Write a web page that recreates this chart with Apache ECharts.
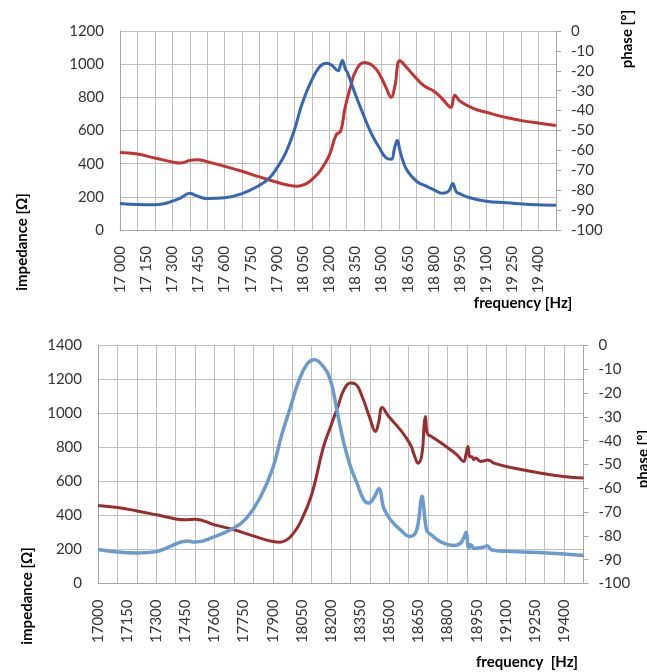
<!DOCTYPE html>
<html>
<head>
<meta charset="utf-8">
<script src="https://cdn.jsdelivr.net/npm/echarts@6/dist/echarts.min.js"></script>
<style>
html,body{margin:0;padding:0;background:#fff;}
#c{width:647px;height:672px;}
</style>
</head>
<body>
<div id="c"></div>
<script>
// ---------- top chart ----------
const topImpFreq = [17000,17100,17200,17300,17350,17400,17445,17500,17600,17700,17800,17900,17967,18015,18065,18100,18150,18200,18240,18265,18290,18320,18350,18400,18450,18490,18525,18555,18575,18605,18640,18690,18745,18798,18840,18882,18898,18920,18950,19025,19120,19215,19310,19405,19500];
const topImp     = [468,458,434,410,404,420,424,412,384,354,320,288,270,264,278,304,360,450,575,595,735,855,955,1010,990,935,860,800,860,1020,985,925,868,838,800,750,738,812,776,734,704,678,658,644,630];

const topPhFreq = [17000,17100,17200,17250,17300,17350,17400,17430,17470,17500,17600,17700,17800,17855,17900,17950,18000,18045,18095,18145,18185,18215,18250,18265,18275,18292,18306,18344,18392,18440,18488,18526,18555,18575,18590,18605,18625,18650,18700,18756,18800,18850,18885,18908,18928,18950,19005,19100,19215,19350,19500];
const topPhase  = [-86.7,-87.2,-87.3,-86.8,-85.5,-83.8,-81.5,-82.5,-83.8,-84.2,-83.8,-81.7,-77.5,-74,-68.8,-61.3,-49.7,-36.3,-25.5,-18,-16.2,-17.2,-20,-17,-14.8,-19,-21.3,-30.5,-41.3,-51.3,-58.8,-63.8,-64.5,-58.5,-55,-60,-66,-70.5,-75.5,-78,-79.8,-81.5,-80.5,-76.6,-80.8,-81.8,-83.8,-85.5,-86.3,-87.2,-87.5];

// ---------- bottom chart ----------
const botImpFreq = [17000,17100,17200,17300,17400,17448,17500,17600,17700,17800,17900,17938,17972,18000,18040,18100,18160,18200,18235,18266,18300,18326,18360,18400,18429,18446,18463,18497,18557,18609,18630,18648,18668,18680,18686,18692,18700,18712,18780,18849,18883,18895,18905,18915,18925,18935,18945,18969,18990,19005,19020,19038,19140,19261,19398,19500];
const botImp     = [459,447,427,404,380,375,378,345,316,280,247,243,257,286,355,522,800,930,1040,1139,1179,1173,1100,973,894,953,1035,982,904,816,750,708,760,940,982,900,875,868,816,757,718,760,806,745,745,730,738,718,722,727,722,708,679,653,629,620];

const botPhFreq = [17000,17100,17200,17300,17353,17400,17456,17500,17600,17700,17765,17834,17900,17946,17990,18033,18076,18113,18153,18197,18231,18266,18300,18334,18369,18394,18420,18446,18472,18506,18557,18604,18634,18652,18660,18668,18676,18685,18695,18712,18763,18832,18866,18885,18895,18909,18918,18926,18935,18952,18990,19003,19029,19140,19312,19500];
const botPhase  = [-85.7,-86.8,-87.2,-86.6,-85.1,-83.4,-82.1,-82.6,-80.3,-76.7,-72.5,-64.1,-51.5,-37.5,-26.3,-15.1,-7.9,-6.0,-8.1,-14.6,-27.7,-41,-50.9,-57.9,-64.9,-66.2,-64.1,-60.2,-68.4,-73.2,-77.4,-80.2,-78.9,-73,-67,-63.3,-67,-74,-78.1,-79.3,-82.4,-84,-83.1,-80.5,-78.5,-85.1,-83.7,-84.2,-85.3,-85.1,-84.6,-84.1,-85.9,-86.6,-87.2,-88.2];

const xTickLabels = [17000,17150,17300,17450,17600,17750,17900,18050,18200,18350,18500,18650,18800,18950,19100,19250,19400];

function zip(a,b){return a.map((v,i)=>[v,b[i]]);}

const FONT = 'Lato';
const gridColor = '#BFBFBF';
const axisColor = '#A6A6A6';
const labelColor = '#333333';

function xAxes(gridIndex, spaced){
  return [
    {type:'value', gridIndex, position:'bottom', min:17000, max:19500, interval:100,
     axisLine:{show:true, onZero:false, lineStyle:{color:axisColor}}, axisTick:{show:false},
     axisLabel:{show:false}, splitLine:{show:true, lineStyle:{color:gridColor, width:1}}},
    {type:'value', gridIndex, position:'bottom', min:17000, max:19500, interval:50,
     axisLine:{show:false, onZero:false}, axisTick:{show:false}, splitLine:{show:false},
     axisLabel:{show:true, rotate:90, margin:16, fontFamily:FONT, fontSize:15, color:labelColor,
       formatter: v => xTickLabels.indexOf(v) >= 0 ? (spaced ? String(v).replace(/^(\d\d)(\d\d\d)$/, '$1 $2') : String(v)) : ''}}
  ];
}

function yAxes(gridIndex, maxImp){
  return [
    {type:'value', gridIndex, position:'left', min:0, max:maxImp, interval:200,
     axisLine:{show:true, lineStyle:{color:axisColor}}, axisTick:{show:false},
     axisLabel:{margin:16, fontFamily:FONT, fontSize:15, color:labelColor, formatter: v => String(v)},
     splitLine:{show:true, lineStyle:{color:gridColor, width:1}}},
    {type:'value', gridIndex, position:'right', min:-100, max:0, interval:10,
     axisLine:{show:true, lineStyle:{color:axisColor}},
     axisTick:{show:true, inside:false, length:5, lineStyle:{color:axisColor}},
     axisLabel:{margin:15, fontFamily:FONT, fontSize:15, color:labelColor, formatter: v => String(v)},
     splitLine:{show:false}}
  ];
}

function title(text, x, y, rot){
  return {type:'text', x, y, rotation: rot ? Math.PI/2 : 0,
    style:{text, fontFamily:FONT, fontSize:15, fontWeight:'bold', fill:'#000', align:'center', verticalAlign:'middle'}};
}

const chart = echarts.init(document.getElementById('c'), null, {renderer:'canvas'});
chart.setOption({
  animation:false,
  backgroundColor:'#fff',
  grid:[
    {left:120, top:31, width:436, height:199},
    {left:98, top:345.5, width:485.5, height:238}
  ],
  xAxis:[...xAxes(0,true), ...xAxes(1,false)],
  yAxis:[...yAxes(0,1200), ...yAxes(1,1400)],
  series:[
    {type:'line', xAxisIndex:0, yAxisIndex:0, data:zip(topImpFreq, topImp), showSymbol:false,
     smooth:0.45, lineStyle:{color:'#C43232', width:3}},
    {type:'line', xAxisIndex:0, yAxisIndex:1, data:zip(topPhFreq, topPhase), showSymbol:false,
     smooth:0.45, lineStyle:{color:'#3565B5', width:3}},
    {type:'line', xAxisIndex:2, yAxisIndex:2, data:zip(botImpFreq, botImp), showSymbol:false,
     smooth:0.45, lineStyle:{color:'#9B2C2C', width:3}},
    {type:'line', xAxisIndex:2, yAxisIndex:3, data:zip(botPhFreq, botPhase), showSymbol:false,
     smooth:0.45, lineStyle:{color:'#6A9BD0', width:3.5}}
  ],
  graphic:[
    title('impedance [Ω]', 22, 242, true),
    title('phase [°]', 627, 39, true),
    title('frequency [Hz]', 523, 303, false),
    title('impedance [Ω]', 27, 596, true),
    title('phase [°]', 643, 459, true),
    title('frequency  [Hz]', 527, 662, false)
  ]
});
</script>
</body>
</html>
